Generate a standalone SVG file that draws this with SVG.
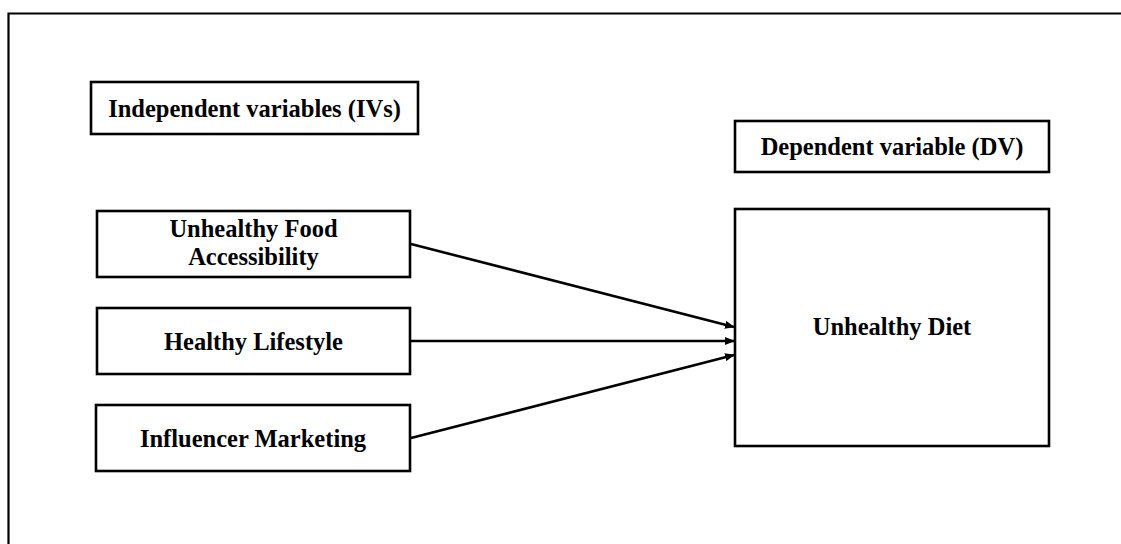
<svg xmlns="http://www.w3.org/2000/svg" width="1121" height="544" viewBox="0 0 1121 544">
<defs>
<style>
.box{fill:#fff;stroke:#000;stroke-width:2.6}
.t{font-family:"Liberation Serif","Times New Roman",serif;font-weight:bold;font-size:24.5px;fill:#000;text-anchor:middle}
.c{stroke:#000;stroke-width:2.6;fill:none}
</style>
<marker id="ah" markerWidth="10" markerHeight="8" refX="9" refY="4" orient="auto" markerUnits="userSpaceOnUse">
<path d="M0,0 L10,4 L0,8 Z" fill="#000"/>
</marker>
</defs>
<rect width="1121" height="544" fill="#fff"/>
<path d="M8.5,544 V13.5 H1121" fill="none" stroke="#000" stroke-width="2.2"/>
<g id="iv-header">
<rect class="box" x="91" y="82" width="327" height="52"/>
<text class="t" x="254.5" y="117">Independent variables (IVs)</text>
</g>
<g id="unhealthy-food">
<rect class="box" x="97" y="211" width="313" height="66"/>
<text class="t" x="253.5" y="237">Unhealthy Food</text>
<text class="t" x="253.5" y="265">Accessibility</text>
</g>
<g id="healthy-lifestyle">
<rect class="box" x="97" y="308" width="313" height="66"/>
<text class="t" x="253.5" y="350">Healthy Lifestyle</text>
</g>
<g id="influencer-marketing">
<rect class="box" x="96" y="405" width="314" height="66"/>
<text class="t" x="253" y="447">Influencer Marketing</text>
</g>
<g id="dv-header">
<rect class="box" x="735" y="121" width="314" height="51"/>
<text class="t" x="892" y="155">Dependent variable (DV)</text>
</g>
<g id="unhealthy-diet">
<rect class="box" x="735" y="209" width="314" height="237"/>
<text class="t" x="892" y="335">Unhealthy Diet</text>
</g>
<g id="connectors">
<line class="c" x1="411" y1="244" x2="734" y2="327" marker-end="url(#ah)"/>
<line class="c" x1="411" y1="341" x2="734" y2="341" marker-end="url(#ah)"/>
<line class="c" x1="411" y1="438" x2="734" y2="355" marker-end="url(#ah)"/>
</g>
</svg>
